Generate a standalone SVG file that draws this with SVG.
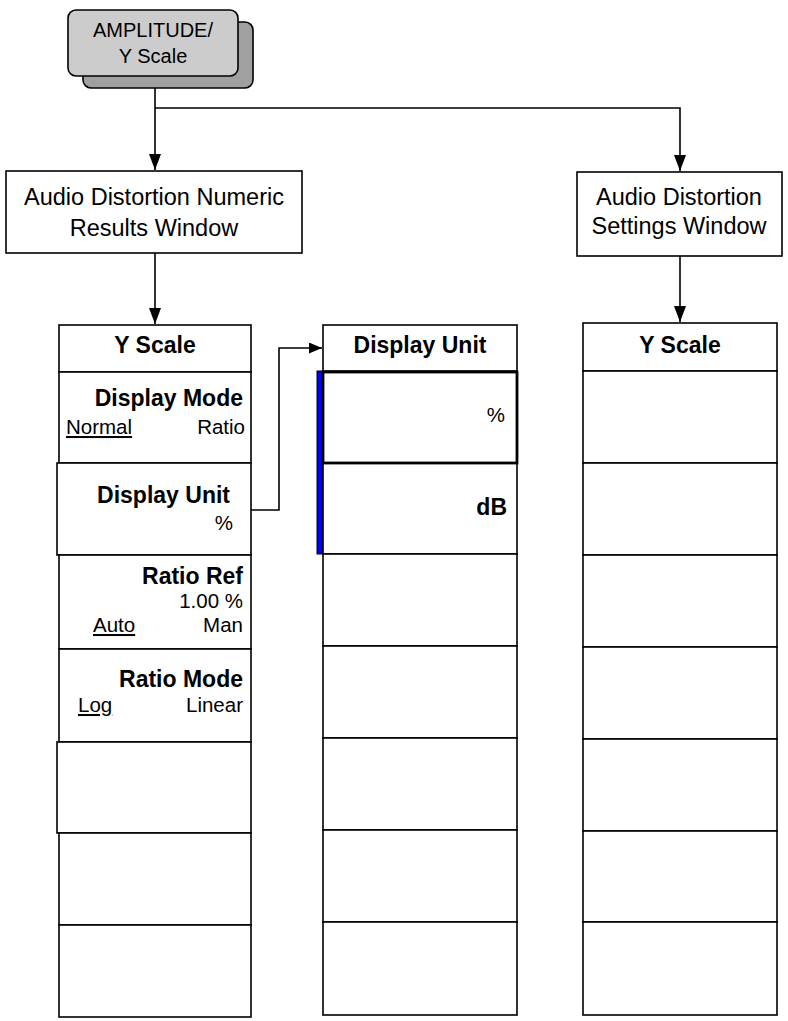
<svg xmlns="http://www.w3.org/2000/svg" width="788" height="1021" viewBox="0 0 788 1021">
<style>
.box{fill:#fff;stroke:#000;stroke-width:1.6}
.ln{fill:none;stroke:#000;stroke-width:1.6}
.t{font-family:"Liberation Sans",Arial,sans-serif;fill:#000}
.win{font-size:23.5px;text-anchor:middle}
.hd{font-size:23px;font-weight:bold;text-anchor:middle}
.lb{font-size:23px;font-weight:bold;text-anchor:end}
.sv{font-size:20.5px;text-anchor:end}
.sl{font-size:20.5px;text-anchor:start;text-decoration:underline}
</style>
<defs>
<marker id="ah" viewBox="0 0 16 12" refX="16" refY="6" markerWidth="16" markerHeight="12" markerUnits="userSpaceOnUse" orient="auto">
<path d="M0,0 L16,6 L0,12 z" fill="#000"/>
</marker>
<marker id="ahs" viewBox="0 0 13 11" refX="13" refY="5.5" markerWidth="13" markerHeight="11" markerUnits="userSpaceOnUse" orient="auto">
<path d="M0,0 L13,5.5 L0,11 z" fill="#000"/>
</marker>
</defs>

<g id="connectors">
<path class="ln" d="M155,76 V170" marker-end="url(#ah)"/>
<path class="ln" d="M155,108 H680 V171" marker-end="url(#ah)"/>
<path class="ln" d="M155,253 V324" marker-end="url(#ah)"/>
<path class="ln" d="M680,256 V322" marker-end="url(#ah)"/>
<path class="ln" d="M251,510 H279 V348 H322" marker-end="url(#ahs)"/>
<path d="M237,504 L248,510 L237,516 z" fill="#000"/>
</g>

<g id="amplitude-key">
<rect x="83" y="22" width="170" height="66" rx="8" fill="#a0a0a0" stroke="#000" stroke-width="1.6"/>
<rect x="68" y="10" width="170" height="66" rx="8" fill="#cccccc" stroke="#000" stroke-width="1.6"/>
<text class="t" x="153" y="37" font-size="20" text-anchor="middle">AMPLITUDE/</text>
<text class="t" x="153" y="63" font-size="20" text-anchor="middle">Y Scale</text>
</g>

<g id="numeric-window">
<rect class="box" x="6" y="171" width="296" height="82"/>
<text class="t win" x="154" y="205">Audio Distortion Numeric</text>
<text class="t win" x="154" y="236">Results Window</text>
</g>

<g id="settings-window">
<rect class="box" x="577" y="172" width="205" height="84"/>
<text class="t win" x="679" y="205">Audio Distortion</text>
<text class="t win" x="679" y="234">Settings Window</text>
</g>

<g id="left-menu">
<rect class="box" x="59" y="325" width="192" height="47"/>
<text class="t hd" x="155" y="353">Y Scale</text>
<rect class="box" x="59" y="372" width="192" height="91"/>
<text class="t lb" x="243" y="406">Display Mode</text>
<text class="t sl" x="66" y="434">Normal</text>
<text class="t sv" x="245" y="434">Ratio</text>
<rect class="box" x="57" y="463" width="194" height="92"/>
<text class="t lb" x="230" y="503">Display Unit</text>
<text class="t sv" x="233" y="530">%</text>
<rect class="box" x="59" y="555" width="192" height="94"/>
<text class="t lb" x="243" y="584">Ratio Ref</text>
<text class="t sv" x="243" y="608">1.00 %</text>
<text class="t sl" x="93" y="632">Auto</text>
<text class="t sv" x="243" y="632">Man</text>
<rect class="box" x="59" y="649" width="192" height="93"/>
<text class="t lb" x="243" y="687">Ratio Mode</text>
<text class="t sl" x="78" y="712">Log</text>
<text class="t sv" x="243" y="712">Linear</text>
<rect class="box" x="57" y="742" width="194" height="91"/>
<rect class="box" x="59" y="833" width="192" height="92"/>
<rect class="box" x="59" y="925" width="192" height="92"/>
</g>

<g id="middle-menu">
<rect class="box" x="323" y="325" width="194" height="46"/>
<text class="t hd" x="420" y="353">Display Unit</text>
<rect x="317" y="371" width="6" height="183" fill="#0000ff" stroke="#000" stroke-width="1"/>
<rect class="box" x="323" y="463" width="194" height="91"/>
<text class="t lb" x="507" y="515">dB</text>
<rect class="box" x="323" y="554" width="194" height="92"/>
<rect class="box" x="323" y="646" width="194" height="92"/>
<rect class="box" x="323" y="738" width="194" height="92"/>
<rect class="box" x="323" y="830" width="194" height="92"/>
<rect class="box" x="323" y="922" width="194" height="93"/>
<rect x="323" y="372" width="194" height="91" fill="#fff" stroke="#000" stroke-width="2.8"/>
<text class="t sv" x="505" y="422">%</text>
</g>

<g id="right-menu">
<rect class="box" x="583" y="323" width="194" height="48"/>
<text class="t hd" x="680" y="353">Y Scale</text>
<rect class="box" x="583" y="371" width="194" height="92"/>
<rect class="box" x="583" y="463" width="194" height="92"/>
<rect class="box" x="583" y="555" width="194" height="92"/>
<rect class="box" x="583" y="647" width="194" height="92"/>
<rect class="box" x="583" y="739" width="194" height="92"/>
<rect class="box" x="583" y="831" width="194" height="91"/>
<rect class="box" x="583" y="922" width="194" height="93"/>
</g>
</svg>
